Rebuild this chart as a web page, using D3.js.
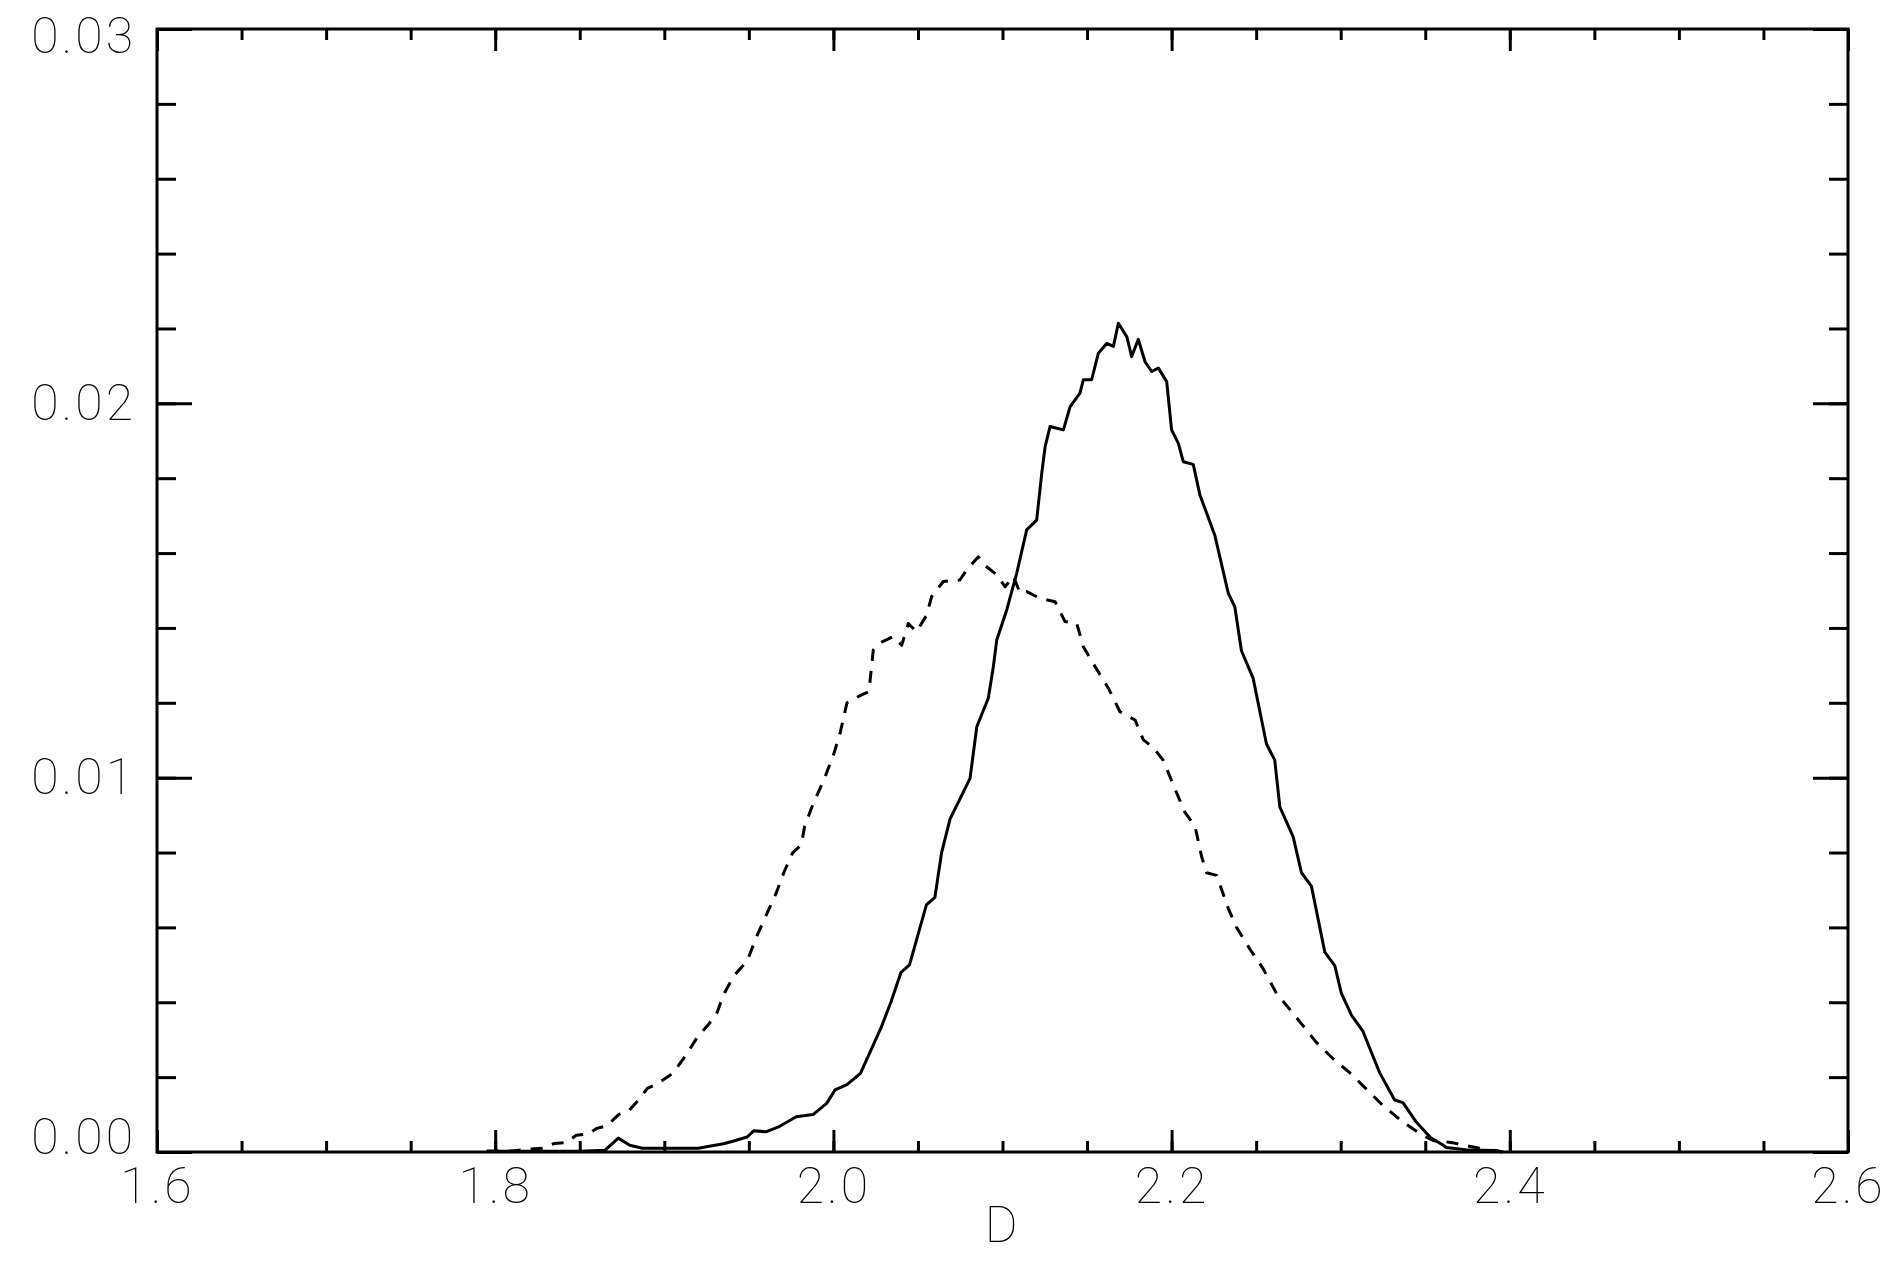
<!DOCTYPE html>
<html lang="en">
<head>
    <meta charset="UTF-8">
    <title>D distribution</title>
    <script src="https://cdn.jsdelivr.net/npm/d3@7/dist/d3.min.js"></script>
    <style>
        body { margin: 0; background: #fff; }
        svg { display: block; }
        .frame { fill: none; stroke: #000; stroke-width: 3px; }
        .tick line { stroke: #000; stroke-width: 3px; }
        .tick text, .axis-title {
            font-family: Roboto, "DejaVu Sans", sans-serif;
            font-weight: 100;
            font-size: 50px;
            fill: #000;
            letter-spacing: 3px;
        }
        .curve { fill: none; stroke: #000; stroke-width: 3px; stroke-linejoin: round; }
        .curve.dashed { stroke-dasharray: 12, 10; }
    </style>
</head>
<body>
    <svg width="1899" height="1266"></svg>
    <script>
        // axis ticks
        var xMajor = [1.6, 1.8, 2.0, 2.2, 2.4, 2.6],
            xMinor = d3.range(1.65, 2.6, 0.05),
            yMajor = [0, 0.01, 0.02, 0.03],
            yMinor = d3.range(0.002, 0.03, 0.002);

        // solid curve
        var solidD = [1.795, 1.82, 1.85, 1.865, 1.8728, 1.8796, 1.887, 1.90, 1.92, 1.935, 1.94, 1.949, 1.953, 1.96, 1.968, 1.978, 1.988, 1.996, 2.001, 2.008,
            2.016, 2.02, 2.028, 2.034, 2.040, 2.045, 2.050, 2.055, 2.060, 2.064, 2.069, 2.0745, 2.0808, 2.0848, 2.0916, 2.0946, 2.0966, 2.1025, 2.1084, 2.1143,
            2.1202, 2.1232, 2.1252, 2.1281, 2.136, 2.14, 2.1458, 2.1478, 2.1527, 2.1567, 2.1616, 2.1656, 2.1685, 2.1735, 2.1764, 2.1803, 2.1843, 2.1882, 2.1922, 2.1971,
            2.200, 2.204, 2.2069, 2.2128, 2.2167, 2.2256, 2.2335, 2.2374, 2.2413, 2.2482, 2.2561, 2.261, 2.264, 2.2719, 2.2768, 2.2827, 2.2906, 2.2965, 2.3004, 2.3063,
            2.3132, 2.323, 2.3319, 2.3368, 2.3447, 2.3535, 2.36, 2.3624, 2.374, 2.384, 2.392, 2.396];
        var solidP = [0.00002, 0.00002, 0.00002, 0.00005, 0.00037, 0.00018, 0.0001, 0.0001, 0.0001, 0.00022, 0.00028, 0.0004, 0.00057, 0.00054, 0.00068, 0.00094, 0.001, 0.0013, 0.00166, 0.0018,
            0.0021, 0.0025, 0.0033, 0.0040, 0.0048, 0.0050, 0.0058, 0.0066, 0.0068, 0.0080, 0.0089, 0.0094, 0.00998, 0.01136, 0.01212, 0.01297, 0.01368, 0.01448, 0.01546, 0.01662,
            0.01688, 0.01813, 0.01884, 0.01938, 0.01929, 0.01991, 0.02027, 0.02063, 0.02063, 0.02134, 0.0216, 0.02152, 0.02214, 0.02178, 0.02125, 0.02171, 0.02111, 0.02085, 0.02094, 0.02058,
            0.01929, 0.01893, 0.01844, 0.01837, 0.01756, 0.01647, 0.01493, 0.01456, 0.01339, 0.01266, 0.0109, 0.01047, 0.00922, 0.00842, 0.00746, 0.0071, 0.00534, 0.00498, 0.00424, 0.00366,
            0.00322, 0.00212, 0.00139, 0.00132, 0.0008, 0.00037, 0.0002, 0.00012, 0.00006, 0.00005, 0.00004, 0];

        // dashed curve
        var dashedD = [1.795, 1.81, 1.82, 1.828, 1.835, 1.842, 1.848, 1.855, 1.86, 1.866, 1.873, 1.879, 1.885, 1.89, 1.895, 1.905, 1.913, 1.92, 1.926, 1.931,
            1.935, 1.941, 1.949, 1.955, 1.961, 1.966, 1.971, 1.976, 1.981, 1.983, 1.988, 1.994, 2.0, 2.004, 2.008, 2.016, 2.021, 2.0236, 2.0275, 2.0354,
            2.0404, 2.0443, 2.0492, 2.0552, 2.0581, 2.065, 2.0748, 2.0788, 2.0857, 2.0896, 2.0966, 2.1015, 2.1064, 2.1104, 2.1143, 2.1222, 2.1311, 2.137, 2.1439, 2.1478,
            2.1547, 2.1626, 2.1695, 2.1784, 2.1833, 2.1892, 2.195, 2.201, 2.2079, 2.2138, 2.2177, 2.2207, 2.2266, 2.2335, 2.2384, 2.2463, 2.2541, 2.262, 2.2699, 2.2778,
            2.2856, 2.2955, 2.3053, 2.3152, 2.325, 2.3368, 2.3486, 2.355, 2.361, 2.366, 2.372, 2.38, 2.386, 2.392, 2.395];
        var dashedP = [0.00002, 0.00003, 0.00008, 0.0001, 0.00023, 0.00025, 0.00045, 0.00048, 0.00063, 0.0007, 0.001, 0.0011, 0.0014, 0.0017, 0.0018, 0.0021, 0.0026, 0.0031, 0.0034, 0.0037,
            0.0042, 0.0047, 0.0051, 0.0058, 0.0064, 0.0069, 0.0075, 0.0080, 0.0082, 0.0087, 0.0093, 0.0099, 0.0106, 0.0112, 0.0120, 0.0122, 0.0123, 0.01341, 0.0136, 0.01377,
            0.01354, 0.01412, 0.0139, 0.01435, 0.01484, 0.01524, 0.01528, 0.01555, 0.0159, 0.01567, 0.01542, 0.0151, 0.01538, 0.01493, 0.01497, 0.01479, 0.0147, 0.01417, 0.01412, 0.0135,
            0.01297, 0.01239, 0.01176, 0.01154, 0.01101, 0.0108, 0.01047, 0.00981, 0.00907, 0.00871, 0.0079, 0.00746, 0.00739, 0.00651, 0.006, 0.00542, 0.0049, 0.00424, 0.00381, 0.00337,
            0.00293, 0.00249, 0.00212, 0.00168, 0.00124, 0.0008, 0.00044, 0.0003, 0.00028, 0.00025, 0.00019, 0.00012, 0.00005, 0.00002, 0];

        var plotLeft = 157, plotRight = 1848, plotTop = 29, plotBottom = 1152;

        var svg = d3.select('svg'),
            x = d3.scaleLinear().domain([1.6, 2.6]).range([plotLeft, plotRight]),
            y = d3.scaleLinear().domain([0, 0.03]).range([plotBottom, plotTop]);

        function noDomain(g) { g.select('.domain').remove(); }
        // end labels sit inside the frame height, as in the original
        function labelY(d) { return Math.max(36, Math.min(1137, y(d))); }

        // y ticks, left side (labels) and right side
        svg.append('g').attr('transform', 'translate(' + plotLeft + ',0)')
            .call(d3.axisLeft(y).tickValues(yMinor).tickSize(-19).tickFormat(''))
            .call(noDomain);
        var yLab = svg.append('g').attr('transform', 'translate(' + plotLeft + ',0)')
            .call(d3.axisLeft(y).tickValues(yMajor).tickSize(-35).tickPadding(21).tickFormat(d3.format('.2f')))
            .call(noDomain);
        yLab.selectAll('.tick text').attr('y', function(d) { return labelY(d) - y(d); });

        svg.append('g').attr('transform', 'translate(' + plotRight + ',0)')
            .call(d3.axisRight(y).tickValues(yMinor).tickSize(-19).tickFormat(''))
            .call(noDomain);
        svg.append('g').attr('transform', 'translate(' + plotRight + ',0)')
            .call(d3.axisRight(y).tickValues(yMajor).tickSize(-35).tickFormat(''))
            .call(noDomain);

        // x ticks, bottom (labels) and top
        svg.append('g').attr('transform', 'translate(0,' + plotBottom + ')')
            .call(d3.axisBottom(x).tickValues(xMinor).tickSize(-11).tickFormat(''))
            .call(noDomain);
        svg.append('g').attr('transform', 'translate(0,' + plotBottom + ')')
            .call(d3.axisBottom(x).tickValues(xMajor).tickSize(-22).tickPadding(15).tickFormat(d3.format('.1f')))
            .call(noDomain);
        svg.append('g').attr('transform', 'translate(0,' + plotTop + ')')
            .call(d3.axisTop(x).tickValues(xMinor).tickSize(-11).tickFormat(''))
            .call(noDomain);
        svg.append('g').attr('transform', 'translate(0,' + plotTop + ')')
            .call(d3.axisTop(x).tickValues(xMajor).tickSize(-22).tickFormat(''))
            .call(noDomain);

        svg.selectAll('.tick text').attr('font-family', null).attr('font-size', null);

        svg.append('text')
            .classed('axis-title', true)
            .attr('x', (plotLeft + plotRight) / 2)
            .attr('y', 1242)
            .attr('text-anchor', 'middle')
            .text('D');

        var line = d3.line()
            .x(function(d) { return x(d[0]); })
            .y(function(d) { return y(d[1]); });

        svg.append('path')
            .classed('curve dashed', true)
            .attr('d', line(d3.zip(dashedD, dashedP)));

        svg.append('path')
            .classed('curve', true)
            .attr('d', line(d3.zip(solidD, solidP)));

        svg.append('rect')
            .classed('frame', true)
            .attr('x', plotLeft)
            .attr('y', plotTop)
            .attr('width', plotRight - plotLeft)
            .attr('height', plotBottom - plotTop);
    </script>
</body>
</html>
